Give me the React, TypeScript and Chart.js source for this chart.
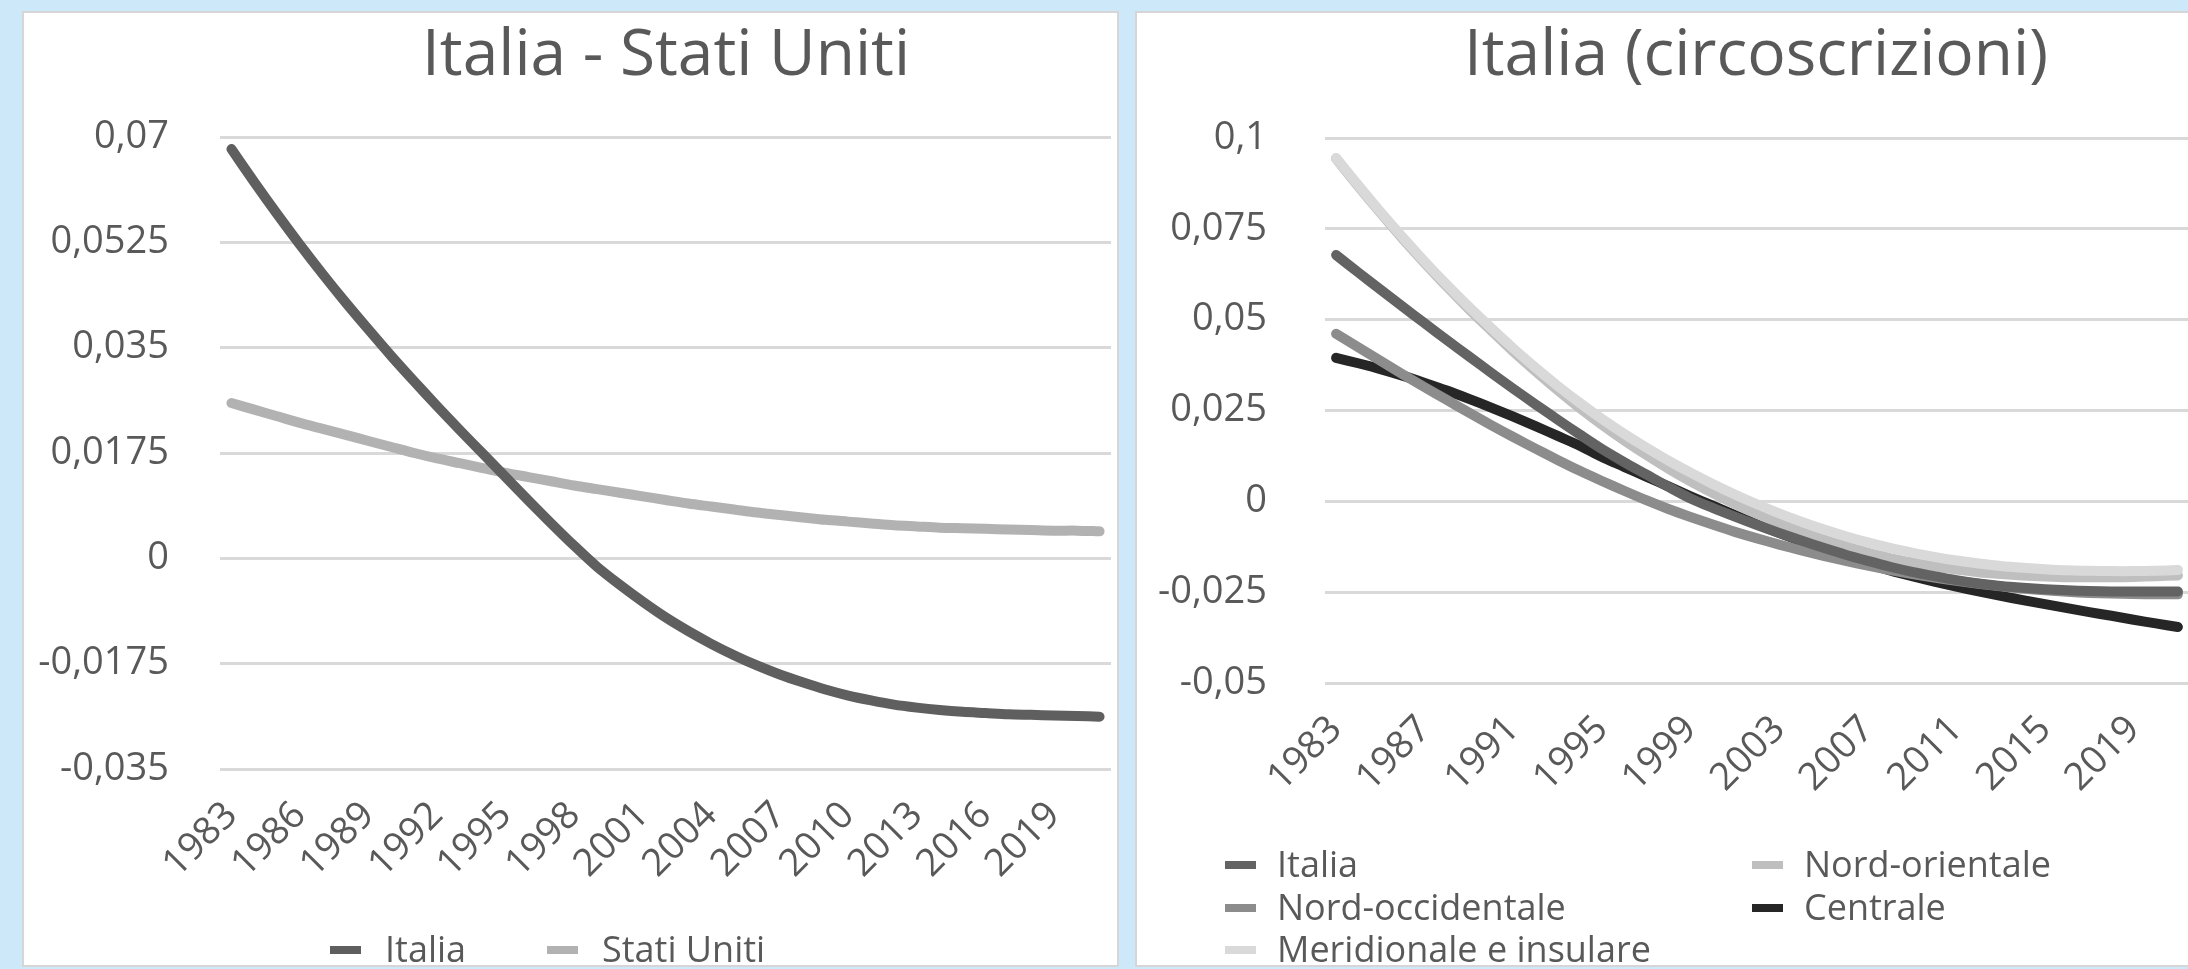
import React, { useEffect, useRef } from "react";
import { Chart, registerables } from "chart.js";

Chart.register(...registerables);

const FONT = "'Open Sans', sans-serif";
const TEXT = "#595959";
const GRID = "#d9d9d9";

// ---------- categories ----------
const years = [
  "1983", "1984", "1985", "1986", "1987", "1988", "1989", "1990", "1991", "1992",
  "1993", "1994", "1995", "1996", "1997", "1998", "1999", "2000", "2001", "2002",
  "2003", "2004", "2005", "2006", "2007", "2008", "2009", "2010", "2011", "2012",
  "2013", "2014", "2015", "2016", "2017", "2018", "2019", "2020", "2021",
];

// ---------- left chart: Italia - Stati Uniti ----------
const leftTitle = "Italia - Stati Uniti";
const leftYTicks = [-0.035, -0.0175, 0, 0.0175, 0.035, 0.0525, 0.07];
const leftYLabels = ["-0,035", "-0,0175", "0", "0,0175", "0,035", "0,0525", "0,07"];

const italiaUS = [
  0.068, 0.0625, 0.0572, 0.0521, 0.0472, 0.0425, 0.038, 0.0336, 0.0294, 0.0253,
  0.0213, 0.0174, 0.0135, 0.0096, 0.0058, 0.0021, -0.0014, -0.0044, -0.0072, -0.0098,
  -0.0121, -0.0142, -0.0161, -0.0178, -0.0193, -0.0206, -0.0218, -0.0228, -0.0236, -0.0243,
  -0.0248, -0.0252, -0.0255, -0.0257, -0.0259, -0.026, -0.0261, -0.0262, -0.0263,
];
const statiUniti = [
  0.0258, 0.0247, 0.0236, 0.0225, 0.0215, 0.0205, 0.0195, 0.0185, 0.0175, 0.0166,
  0.0158, 0.015, 0.0142, 0.0135, 0.0128, 0.0121, 0.0115, 0.0109, 0.0103, 0.0097,
  0.0091, 0.0086, 0.0081, 0.0076, 0.0072, 0.0068, 0.0064, 0.0061, 0.0058, 0.0055,
  0.0053, 0.0051, 0.005, 0.0049, 0.0048, 0.0047, 0.0046, 0.0046, 0.0045,
];

// ---------- right chart: Italia (circoscrizioni) ----------
const rightTitle = "Italia (circoscrizioni)";
const rightYTicks = [-0.05, -0.025, 0, 0.025, 0.05, 0.075, 0.1];
const rightYLabels = ["-0,05", "-0,025", "0", "0,025", "0,05", "0,075", "0,1"];

const italiaCirc = [
  0.0678, 0.063, 0.0583, 0.0536, 0.049, 0.0444, 0.0399, 0.0354, 0.031, 0.0267,
  0.0225, 0.0184, 0.0144, 0.0108, 0.0074, 0.004, 0.0008, -0.0018, -0.0042, -0.0065,
  -0.0087, -0.0108, -0.0128, -0.0147, -0.0164, -0.018, -0.0194, -0.0206, -0.0217, -0.0226,
  -0.0233, -0.0238, -0.0242, -0.0245, -0.0247, -0.0248, -0.0248, -0.0248, -0.0248,
];
const nordOccidentale = [
  0.0461, 0.0424, 0.0387, 0.035, 0.0314, 0.0279, 0.0244, 0.021, 0.0177, 0.0145,
  0.0114, 0.0084, 0.0056, 0.0029, 0.0003, -0.0021, -0.0043, -0.0064, -0.0084, -0.0102,
  -0.0119, -0.0135, -0.015, -0.0164, -0.0177, -0.0189, -0.02, -0.021, -0.0219, -0.0227,
  -0.0234, -0.024, -0.0245, -0.0249, -0.0252, -0.0254, -0.0255, -0.0256, -0.0256,
];
const nordOrientale = [
  0.0943, 0.0867, 0.0794, 0.0723, 0.0656, 0.0591, 0.0529, 0.047, 0.0412, 0.0358,
  0.0306, 0.0257, 0.0211, 0.0168, 0.0128, 0.009, 0.0055, 0.0023, -0.0007, -0.0035,
  -0.0061, -0.0084, -0.0105, -0.0124, -0.0141, -0.0156, -0.0168, -0.0179, -0.0188, -0.0195,
  -0.02, -0.0204, -0.0207, -0.0209, -0.0209, -0.0209, -0.0208, -0.0206, -0.0204,
];
const centrale = [
  0.0395, 0.038, 0.0364, 0.0346, 0.0326, 0.0305, 0.0282, 0.0258, 0.0233, 0.0207,
  0.018, 0.0153, 0.0122, 0.0095, 0.0068, 0.0041, 0.0014, -0.0012, -0.0038, -0.0063,
  -0.0087, -0.011, -0.0132, -0.0153, -0.0172, -0.019, -0.0206, -0.0221, -0.0235, -0.0248,
  -0.026, -0.0272, -0.0283, -0.0294, -0.0305, -0.0315, -0.0326, -0.0336, -0.0346,
];
const meridionale = [
  0.0945, 0.087, 0.0797, 0.0727, 0.066, 0.0596, 0.0535, 0.0477, 0.0421, 0.0368,
  0.0318, 0.0271, 0.0227, 0.0186, 0.0148, 0.0112, 0.0079, 0.0048, 0.0019, -0.0008,
  -0.0033, -0.0056, -0.0077, -0.0096, -0.0113, -0.0128, -0.0141, -0.0153, -0.0163, -0.0171,
  -0.0178, -0.0183, -0.0187, -0.019, -0.0191, -0.0192, -0.0192, -0.0191, -0.0189,
];

// ---------- shared styling ----------
const LINE_WIDTH = 10;

function lineDataset(label: string, data: number[], color: string, order: number) {
  return {
    label,
    data,
    borderColor: color,
    backgroundColor: color,
    borderWidth: LINE_WIDTH,
    borderCapStyle: "round" as const,
    borderJoinStyle: "round" as const,
    pointRadius: 0,
    pointHoverRadius: 0,
    tension: 0.3,
    fill: false,
    order,
  };
}

type LegendItem = { ds: number; x: number; y: number; textX: number };
type DecorOpts = {
  title: string;
  titleX: number;
  titleY: number;
  items: LegendItem[];
};

const decorPlugin = {
  id: "decor",
  afterDraw(chart: any, _args: any, opts: DecorOpts) {
    const ctx = chart.ctx as CanvasRenderingContext2D;
    ctx.save();
    ctx.fillStyle = TEXT;
    ctx.font = `64px ${FONT}`;
    ctx.textAlign = "center";
    ctx.textBaseline = "alphabetic";
    ctx.fillText(opts.title, opts.titleX, opts.titleY);

    ctx.font = `36px ${FONT}`;
    ctx.textAlign = "left";
    for (const it of opts.items) {
      const ds = chart.data.datasets[it.ds];
      ctx.strokeStyle = ds.borderColor;
      ctx.lineWidth = 8;
      ctx.lineCap = "butt";
      ctx.beginPath();
      ctx.moveTo(it.x, it.y - 12);
      ctx.lineTo(it.x + 31, it.y - 12);
      ctx.stroke();
      ctx.fillStyle = TEXT;
      ctx.fillText(ds.label, it.textX, it.y);
    }
    ctx.restore();
  },
};

function buildOptions(p: {
  yTicks: number[];
  yLabels: string[];
  every: number;
  top: number;
  right: number;
  yWidth: number;
  xHeight: number;
  yPad: number;
  decor: DecorOpts;
}) {
  return {
    responsive: false,
    animation: false as const,
    devicePixelRatio: 1,
    events: [],
    layout: { padding: { top: p.top, right: p.right, left: 0, bottom: 0 } },
    plugins: {
      legend: { display: false },
      tooltip: { enabled: false },
      title: { display: false },
      decor: p.decor,
    },
    scales: {
      x: {
        type: "category" as const,
        offset: true,
        grid: { display: false, drawTicks: false },
        border: { display: false },
        ticks: {
          autoSkip: false,
          maxRotation: 45,
          minRotation: 45,
          padding: 24,
          color: TEXT,
          font: { size: 38, family: FONT },
          callback: (_v: any, i: number) => (i % p.every === 0 ? years[i] : null),
        },
        afterFit: (s: any) => {
          s.height = p.xHeight;
          s.paddingLeft = 0;
          s.paddingRight = 0;
        },
      },
      y: {
        min: p.yTicks[0],
        max: p.yTicks[p.yTicks.length - 1],
        grid: { color: GRID, lineWidth: 3, drawTicks: false },
        border: { display: false },
        ticks: {
          padding: p.yPad,
          color: TEXT,
          font: { size: 38, family: FONT },
          callback: (_v: any, i: number) => p.yLabels[i],
        },
        afterBuildTicks: (s: any) => {
          s.ticks = p.yTicks.map((v) => ({ value: v }));
        },
        afterFit: (s: any) => {
          s.width = p.yWidth;
          s.paddingTop = 0;
          s.paddingBottom = 0;
        },
      },
    },
  };
}

function LeftChart() {
  const ref = useRef<HTMLCanvasElement | null>(null);
  useEffect(() => {
    if (!ref.current) return;
    const chart = new Chart(ref.current, {
      type: "line",
      data: {
        labels: years,
        datasets: [
          lineDataset("Italia", italiaUS, "#5f5f5f", 0),
          lineDataset("Stati Uniti", statiUniti, "#b2b2b2", 1),
        ],
      },
      options: buildOptions({
        yTicks: leftYTicks,
        yLabels: leftYLabels,
        every: 3,
        top: 124,
        right: 6,
        yWidth: 196,
        xHeight: 196,
        yPad: 51,
        decor: {
          title: leftTitle,
          titleX: 642,
          titleY: 62,
          items: [
            { ds: 0, x: 306, y: 949, textX: 361 },
            { ds: 1, x: 523, y: 949, textX: 578 },
          ],
        },
      }) as any,
      plugins: [decorPlugin as any],
    });
    return () => chart.destroy();
  }, []);
  return <canvas ref={ref} width={1093} height={952} style={{ display: "block" }} />;
}

function RightChart() {
  const ref = useRef<HTMLCanvasElement | null>(null);
  useEffect(() => {
    if (!ref.current) return;
    const chart = new Chart(ref.current, {
      type: "line",
      data: {
        labels: years,
        datasets: [
          lineDataset("Italia", italiaCirc, "#636363", 1),
          lineDataset("Nord-orientale", nordOrientale, "#bfbfbf", 2),
          lineDataset("Nord-occidentale", nordOccidentale, "#8c8c8c", 3),
          lineDataset("Centrale", centrale, "#262626", 4),
          lineDataset("Meridionale e insulare", meridionale, "#d9d9d9", 0),
        ],
      },
      options: buildOptions({
        yTicks: rightYTicks,
        yLabels: rightYLabels,
        every: 4,
        top: 125,
        right: 18,
        yWidth: 188,
        xHeight: 282,
        yPad: 58,
        decor: {
          title: rightTitle,
          titleX: 619,
          titleY: 62,
          items: [
            { ds: 0, x: 88, y: 864, textX: 140 },
            { ds: 2, x: 88, y: 907, textX: 140 },
            { ds: 4, x: 88, y: 949, textX: 140 },
            { ds: 1, x: 615, y: 864, textX: 667 },
            { ds: 3, x: 615, y: 907, textX: 667 },
          ],
        },
      }) as any,
      plugins: [decorPlugin as any],
    });
    return () => chart.destroy();
  }, []);
  return <canvas ref={ref} width={1070} height={952} style={{ display: "block" }} />;
}

const panelStyle: React.CSSProperties = {
  position: "absolute",
  top: 11,
  height: 956,
  boxSizing: "border-box",
  border: "2px solid #d6d6d6",
  background: "#ffffff",
  overflow: "hidden",
};

export default function App() {
  return (
    <div
      style={{
        position: "fixed",
        left: 0,
        top: 0,
        width: 2188,
        height: 969,
        overflow: "hidden",
        background: "#cde8f9",
        fontFamily: FONT,
      }}
    >
      <div style={{ ...panelStyle, left: 22, width: 1097 }}>
        <LeftChart />
      </div>
      <div style={{ ...panelStyle, left: 1135, width: 1074 }}>
        <RightChart />
      </div>
    </div>
  );
}
